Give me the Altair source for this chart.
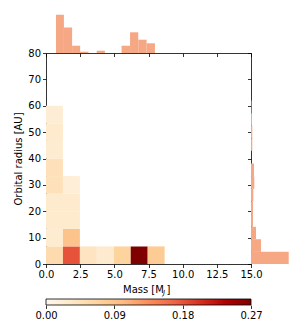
import altair as alt
import pandas as pd

# ---- data ----
mass_edges = [0.0, 1.24, 2.48, 3.72, 4.96, 6.20, 7.44, 8.68]
radius_edges = [0.0, 6.67, 13.33, 20.0, 26.67, 33.33, 40.0, 46.67, 53.33, 60.0]

cell_mass_bin = [0, 1, 2, 3, 4, 5, 6, 0, 1, 0, 1, 0, 1, 0, 1, 0, 0, 0, 0]
cell_radius_bin = [0, 0, 0, 0, 0, 0, 0, 1, 1, 2, 2, 3, 3, 4, 4, 5, 6, 7, 8]
cell_value = [0.055, 0.18, 0.04, 0.027, 0.068, 0.27, 0.08,
              0.025, 0.09, 0.03, 0.03, 0.03, 0.03, 0.045, 0.02,
              0.045, 0.025, 0.03, 0.022]

top_edges = [0.73, 1.31, 1.91, 2.50, 3.11, 3.71, 4.31, 4.91, 5.53, 6.15, 6.75, 7.36, 7.97]
top_heights = [38.3, 25.6, 7.3, 1.3, 0, 2.3, 0, 0, 7.3, 20.7, 13.3, 9.7]

right_edges = [0, 4.6, 9.4, 14.1, 18.9, 23.7, 28.5, 33.3, 38.1, 42.9, 47.6, 52.4, 57.2, 62.0]
right_lengths = [37.7, 10, 5, 2, 2, 2.3, 3.3, 3, 0, 1.3, 1.3, 1.0, 0.5]

x_ticks = [0, 2.5, 5, 7.5, 10, 12.5, 15]
y_ticks = [0, 10, 20, 30, 40, 50, 60, 70, 80]
cbar_ticks = [0, 0.09, 0.18, 0.27]
cbar_range = [0.0, 0.27]

# matplotlib OrRd colour stops
orrd_stops = [0, 0.03375, 0.0675, 0.10125, 0.135, 0.16875, 0.2025, 0.23625, 0.27]
orrd_offsets = [0, 0.125, 0.25, 0.375, 0.5, 0.625, 0.75, 0.875, 1.0]
orrd_colors = ["#fff7ec", "#fee8c8", "#fdd49e", "#fdbb84", "#fc8d59",
               "#ef6548", "#d7301f", "#b30000", "#7f0000"]

HIST = "#f6a784"
W, H = 205, 211
HW = 40
TH = 40

cells = pd.DataFrame({
    "x0": [mass_edges[i] for i in cell_mass_bin],
    "x1": [mass_edges[i + 1] for i in cell_mass_bin],
    "y0": [radius_edges[j] for j in cell_radius_bin],
    "y1": [radius_edges[j + 1] for j in cell_radius_bin],
    "v": cell_value,
})
top_df = pd.DataFrame({"lo": top_edges[:-1], "hi": top_edges[1:], "h": top_heights})
right_df = pd.DataFrame({"lo": right_edges[:-1], "hi": right_edges[1:], "l": right_lengths})
cbar_df = pd.DataFrame({"a": [cbar_range[0]], "b": [cbar_range[1]]})

xscale = alt.Scale(domain=[0, 15], nice=False, zero=False)
yscale = alt.Scale(domain=[0, 80], nice=False, zero=False)

heat = alt.Chart(cells).mark_rect().encode(
    x=alt.X("x0:Q", scale=xscale,
            axis=alt.Axis(values=x_ticks, format=".1f", title=None, labelFlush=False)),
    x2="x1:Q",
    y=alt.Y("y0:Q", scale=yscale,
            axis=alt.Axis(values=y_ticks, title="Orbital radius [AU]", titlePadding=4)),
    y2="y1:Q",
    color=alt.Color("v:Q",
                    scale=alt.Scale(domain=orrd_stops, range=orrd_colors,
                                    interpolate="rgb"),
                    legend=None),
)

t1 = alt.Chart(pd.DataFrame({"t": ["Mass [M"]})).mark_text(
    align="left", baseline="alphabetic", fontSize=10, font="DejaVu Sans", color="black"
).encode(x=alt.value(77), y=alt.value(240), text="t:N")
t2 = alt.Chart(pd.DataFrame({"t": ["J"]})).mark_text(
    align="left", baseline="alphabetic", fontSize=7, fontStyle="italic",
    font="DejaVu Sans", color="black"
).encode(x=alt.value(117), y=alt.value(242), text="t:N")
t3 = alt.Chart(pd.DataFrame({"t": ["]"]})).mark_text(
    align="left", baseline="alphabetic", fontSize=10, font="DejaVu Sans", color="black"
).encode(x=alt.value(120.5), y=alt.value(240), text="t:N")

main = alt.layer(heat, t1, t2, t3).properties(width=W, height=H)

top = alt.Chart(top_df).mark_rect(color=HIST).encode(
    x=alt.X("lo:Q", scale=xscale,
            axis=alt.Axis(values=x_ticks, labels=False, title=None, orient="bottom")),
    x2="hi:Q",
    y=alt.Y("h:Q", scale=alt.Scale(domain=[0, TH], nice=False), axis=None),
    y2=alt.datum(0),
).properties(width=W, height=TH)

blank = alt.Chart(pd.DataFrame({"a": [0]})).mark_point(opacity=0).encode(
    x=alt.X("a:Q", axis=None), y=alt.Y("a:Q", axis=None)
).properties(width=HW, height=TH)

right = alt.Chart(right_df).mark_rect(color=HIST).encode(
    y=alt.Y("lo:Q", scale=yscale,
            axis=alt.Axis(values=y_ticks, labels=False, title=None, orient="left")),
    y2="hi:Q",
    x=alt.X("l:Q", scale=alt.Scale(domain=[0, HW], nice=False), axis=None),
    x2=alt.datum(0),
).properties(width=HW, height=H)

grad = alt.LinearGradient(
    gradient="linear", x1=0, x2=1, y1=0, y2=0,
    stops=[alt.GradientStop(offset=o, color=c) for o, c in zip(orrd_offsets, orrd_colors)],
)
cbar = alt.Chart(cbar_df).mark_rect(color=grad, stroke="black", strokeWidth=0.8).encode(
    x=alt.X("a:Q", scale=alt.Scale(domain=cbar_range, nice=False, zero=False),
            axis=alt.Axis(values=cbar_ticks, format=".2f", title=None,
                          labelFlush=False, domain=False)),
    x2="b:Q",
    y=alt.value(35),
    y2=alt.value(41),
).properties(width=W, height=41)

chart = alt.concat(top, blank, main, right, cbar, columns=2, spacing=0,
                   bounds="flush").resolve_scale(
    x="independent", y="independent"
).properties(
    padding={"left": 5, "top": 5, "right": 5, "bottom": 0}
).configure(
    font="DejaVu Sans"
).configure_view(
    stroke=None
).configure_axis(
    grid=False, labelFontSize=10, titleFontSize=10, tickSize=3.5,
    tickColor="black", domainColor="black", labelColor="black",
    titleColor="black", titleFontWeight="normal", labelPadding=2,
    domainWidth=0.8, tickWidth=0.8,
)

chart.save("out.html", embed_options={"renderer": "svg", "actions": False})
